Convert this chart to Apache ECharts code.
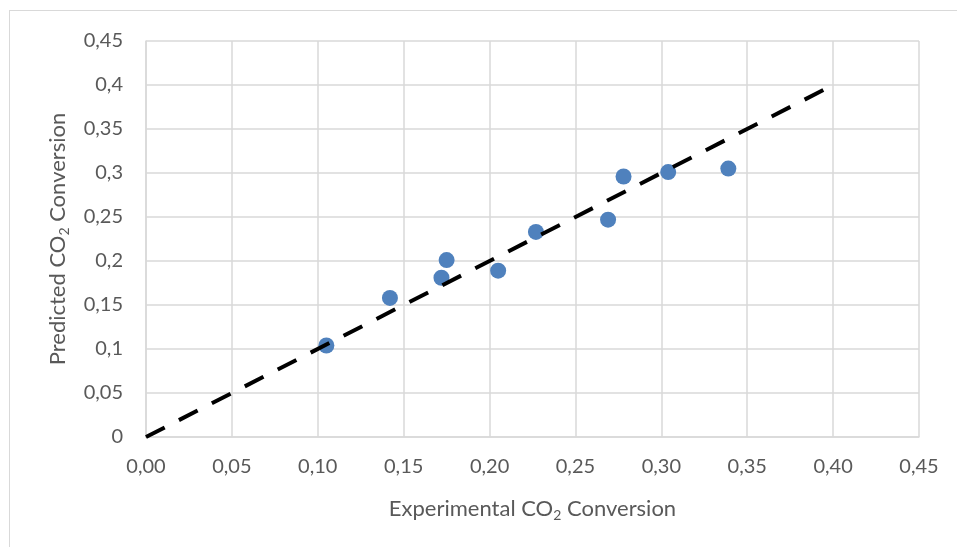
<!DOCTYPE html>
<html>
<head>
<meta charset="utf-8">
<script src="https://cdn.jsdelivr.net/npm/echarts@6/dist/echarts.min.js"></script>
<style>
  html, body { margin: 0; padding: 0; background: #fff; }
  #frame { position: absolute; left: 9px; top: 10px; width: 960px; height: 560px; border: 1px solid #d9d9d9; }
  #chart { position: absolute; left: 0; top: 0; width: 957px; height: 547px; }
</style>
</head>
<body>
<div id="frame"></div>
<div id="chart"></div>
<script>
// experimental vs predicted CO2 conversion
var experimental = [0.105, 0.142, 0.175, 0.172, 0.205, 0.227, 0.269, 0.278, 0.304, 0.339];
var predicted    = [0.104, 0.158, 0.201, 0.181, 0.189, 0.233, 0.247, 0.296, 0.301, 0.305];
var parityX = [0, 0.4];
var parityY = [0, 0.4];

var points = experimental.map(function (x, i) { return [x, predicted[i]]; });
var parity = parityX.map(function (x, i) { return [x, parityY[i]]; });

var textColor = '#595959';
var font = 'Lato';

var nameRich = {
  n: { fontSize: 22, color: textColor, fontFamily: font },
  s: { fontSize: 14, color: textColor, fontFamily: font, verticalAlign: 'bottom', padding: [12, 0, 0, 0] }
};

var chart = echarts.init(document.getElementById('chart'));
chart.setOption({
  animation: false,
  grid: { left: 146, right: 38, top: 41, bottom: 110 },
  xAxis: {
    type: 'value',
    min: 0, max: 0.45, interval: 0.05,
    name: '{n|Experimental CO}{s|2}{n| Conversion}',
    nameLocation: 'middle',
    nameGap: 59,
    nameTextStyle: { rich: nameRich },
    axisLine: { show: true, lineStyle: { color: '#d9d9d9', width: 1.5 } },
    axisTick: { show: false },
    splitLine: { show: true, lineStyle: { color: '#d9d9d9', width: 1.5 } },
    axisLabel: {
      color: textColor, fontSize: 20, fontFamily: font, margin: 20,
      formatter: function (v) { return v.toFixed(2).replace('.', ','); }
    }
  },
  yAxis: {
    type: 'value',
    min: 0, max: 0.45, interval: 0.05,
    name: '{n|Predicted CO}{s|2}{n| Conversion}',
    nameLocation: 'middle',
    nameGap: 75,
    nameTextStyle: { rich: nameRich },
    axisLine: { show: true, lineStyle: { color: '#d9d9d9', width: 1.5 } },
    axisTick: { show: false },
    splitLine: { show: true, lineStyle: { color: '#d9d9d9', width: 1.5 } },
    axisLabel: {
      color: textColor, fontSize: 20, fontFamily: font, margin: 23,
      formatter: function (v) { return String(parseFloat(v.toFixed(2))).replace('.', ','); }
    }
  },
  series: [
    {
      type: 'scatter',
      data: points,
      symbolSize: 16,
      itemStyle: { color: '#4F81BD', opacity: 1 },
      z: 2
    },
    {
      type: 'line',
      data: parity,
      showSymbol: false,
      symbol: 'none',
      lineStyle: { color: '#000', width: 4, type: [21, 16] },
      z: 3
    }
  ]
});
</script>
</body>
</html>
